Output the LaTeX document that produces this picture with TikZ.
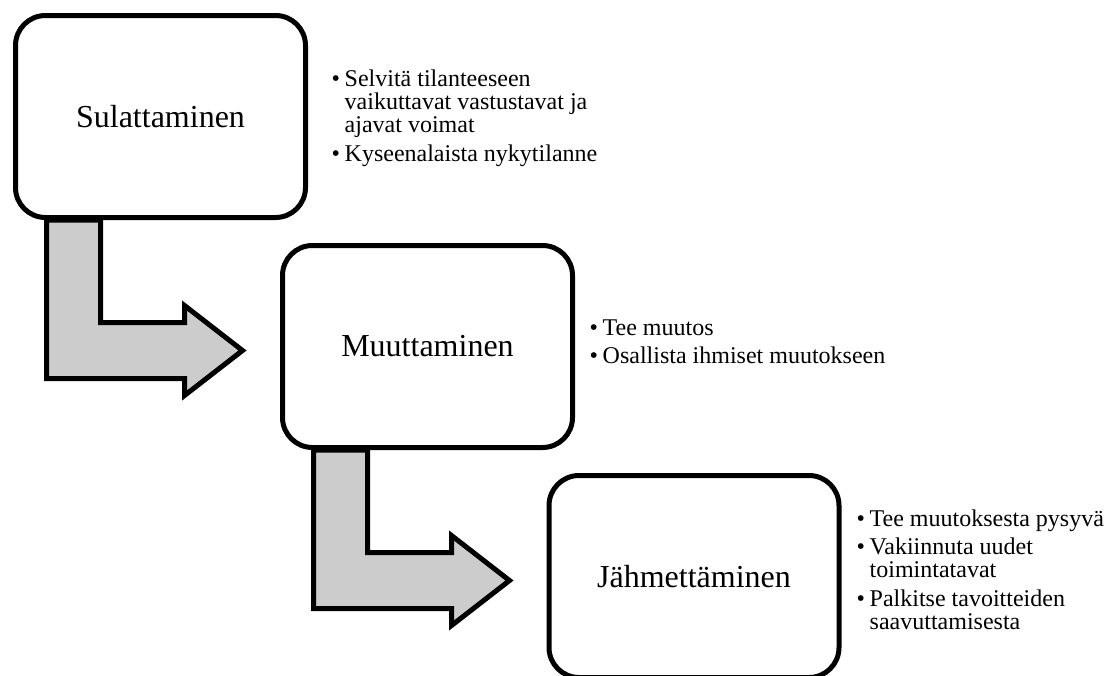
\documentclass[tikz,border=0pt]{standalone}
\usepackage{fontspec}
\setmainfont{Liberation Serif}
\usetikzlibrary{calc,backgrounds}
\newcommand{\bitem}[1]{\makebox[13pt][l]{\textbullet}#1}
\newcommand{\bind}{\hspace*{13pt}}
\begin{document}
\begin{tikzpicture}[x=1pt,y=-1pt,
  stagebox/.style={draw=black, line width=5pt, fill=white, rounded corners=30pt,
    minimum width=290pt, minimum height=202pt, inner sep=0pt,
    font=\fontsize{32}{38}\selectfont},
  bulletlist/.style={anchor=west, align=left, inner sep=0pt,
    font=\fontsize{24}{23}\selectfont},
  bentarrow/.style={draw=black, line width=5pt, fill=gray!40, line join=miter}]
\useasboundingbox (0,0) rectangle (1118,675);
\clip (0,0) rectangle (1118,675);

\node[stagebox] (b1) at (160.5,116.5) {Sulattaminen};
\node[stagebox] (b2) at (427.5,346.5) {Muuttaminen};
\node[stagebox] (b3) at (694,576.5) {Jähmettäminen};

\node[bulletlist] (l1) at ($(b1.east)+(23.5,1.5)$)
  {\bitem{Selvitä tilanteeseen}\\
   \bind vaikuttavat vastustavat ja\\
   \bind ajavat voimat\\[6pt]
   \bitem{Kyseenalaista nykytilanne}};
\node[bulletlist] (l2) at ($(b2.east)+(14.5,-4.5)$)
  {\bitem{Tee muutos}\\[5pt]
   \bitem{Osallista ihmiset muutokseen}};
\node[bulletlist] (l3) at ($(b3.east)+(15,-6.5)$)
  {\bitem{Tee muutoksesta pysyvä}\\[5pt]
   \bitem{Vakiinnuta uudet}\\
   \bind toimintatavat\\[6pt]
   \bitem{Palkitse tavoitteiden}\\
   \bind saavuttamisesta};

\begin{scope}[on background layer]
\draw[bentarrow] ($(b1.south west)+(33.5,0)$) -- ++(0,158.5) -- ++(138,0) -- ++(0,17)
  -- ++(58,-45) -- ++(-58,-45) -- ++(0,17) -- ++(-84,0) -- ++(0,-102.5) -- cycle;
\draw[bentarrow] ($(b2.south west)+(33.5,0)$) -- ++(0,158.5) -- ++(138,0) -- ++(0,17)
  -- ++(58,-45) -- ++(-58,-45) -- ++(0,17) -- ++(-84,0) -- ++(0,-102.5) -- cycle;
\end{scope}
\end{tikzpicture}
\end{document}
